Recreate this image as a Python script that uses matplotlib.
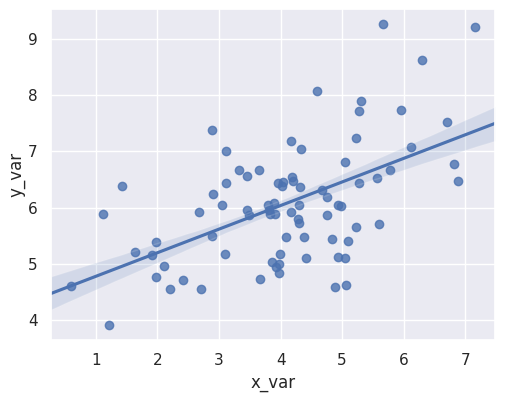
import numpy as np
import pandas as pd
import seaborn as sns
import matplotlib
matplotlib.use("Agg")
import matplotlib.pyplot as plt

# valeurs
x_var = [0.60, 1.21, 1.11, 1.42, 1.63, 1.92, 1.97, 1.97, 2.10, 2.21,
         2.42, 2.70, 2.68, 2.89, 2.91, 2.89, 3.05, 3.10, 3.12, 3.12,
         3.33, 3.46, 3.65, 3.46, 3.49, 3.67, 3.80, 3.89, 3.81, 3.83,
         3.91, 3.86, 3.98, 3.92, 3.97, 3.99, 3.96, 4.04, 4.02, 4.09,
         4.17, 4.18, 4.20, 4.17, 4.31, 4.30, 4.28, 4.30, 4.33, 4.38,
         4.41, 4.59, 4.67, 4.75, 4.76, 4.83, 4.88, 4.93, 4.94, 4.98,
         5.04, 5.05, 5.07, 5.09, 5.22, 5.23, 5.27, 5.27, 5.30, 5.57,
         5.60, 5.67, 5.78, 5.96, 6.11, 6.30, 6.70, 6.82, 6.88, 7.16]
y_var = [4.60, 3.91, 5.88, 6.39, 5.21, 5.15, 5.38, 4.76, 4.97, 4.55,
         4.71, 4.55, 5.93, 5.49, 6.25, 7.38, 6.04, 5.17, 6.44, 7.01,
         6.67, 6.57, 6.67, 5.95, 5.86, 4.73, 6.04, 6.09, 5.95, 5.88,
         5.89, 5.03, 4.99, 4.94, 4.83, 5.17, 6.44, 6.46, 6.39, 5.48,
         7.19, 6.55, 6.48, 5.93, 6.36, 6.05, 5.79, 5.73, 7.05, 5.47,
         5.11, 8.08, 6.32, 6.19, 5.86, 5.45, 4.58, 5.13, 6.04, 6.02,
         6.82, 5.10, 4.63, 5.41, 7.24, 5.66, 6.44, 7.72, 7.90, 6.53,
         5.70, 9.27, 6.67, 7.74, 7.07, 8.63, 7.53, 6.78, 6.48, 9.22]

df = pd.DataFrame({"x_var": x_var, "y_var": y_var})

sns.set_theme()

fig = plt.figure(figsize=(5.05, 3.96), dpi=100)
ax = fig.add_axes([0.101, 0.141, 0.880, 0.837])
# bande plus étroite que ci=95 dans l'original
sns.regplot(data=df, x="x_var", y="y_var", ax=ax, truncate=False, ci=68, seed=0)
ax.yaxis.labelpad = 2

fig.savefig("out.png", dpi=100)
